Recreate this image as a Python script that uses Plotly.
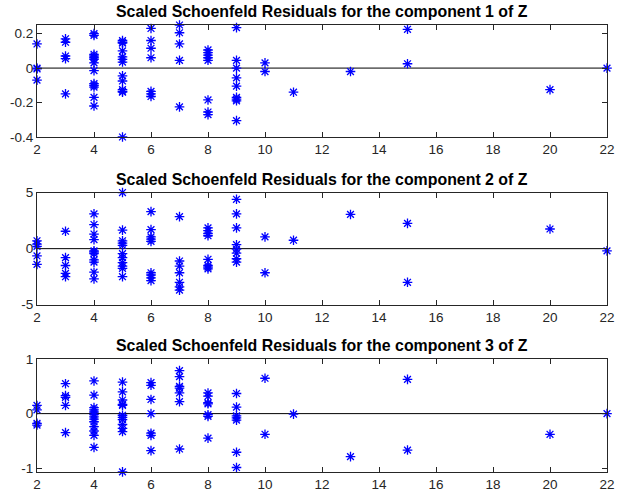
import plotly.graph_objects as go

# Event times and scaled Schoenfeld residuals for each component of Z
time_c1 = (
    [2] * 4 + [3] * 5 + [4] * 13 + [5] * 13 + [6] * 7 + [7] * 5 + [8] * 8 + [9] * 9
    + [10] * 2 + [11] + [13] + [15] * 2 + [20] + [22]
)
res_c1 = [
    0.14, 0.0, -0.005, -0.07,
    0.17, 0.15, 0.07, 0.055, -0.15,
    0.2, 0.19, 0.08, 0.07, 0.06, 0.05, 0.03, -0.015, -0.09, -0.10, -0.11, -0.17, -0.22,
    0.16, 0.15, 0.145, 0.10, 0.065, 0.05, 0.035, -0.045, -0.075, -0.125, -0.135, -0.14, -0.40,
    0.23, 0.16, 0.115, 0.06, -0.135, -0.15, -0.165,
    0.25, 0.205, 0.14, 0.045, -0.225,
    0.105, 0.09, 0.075, 0.06, 0.045, -0.185, -0.255, -0.27,
    0.235, 0.045, 0.0, -0.057, -0.105, -0.17, -0.18, -0.19, -0.305,
    0.03, -0.02,
    -0.14,
    -0.02,
    0.225, 0.025,
    -0.125,
    0.0,
]

time_c2 = (
    [2] * 5 + [3] * 5 + [4] * 11 + [5] * 11 + [6] * 9 + [7] * 7 + [8] * 8 + [9] * 8
    + [10] * 2 + [11] + [13] + [15] * 2 + [20] + [22]
)
res_c2 = [
    0.7, 0.4, 0.2, -0.65, -1.4,
    1.55, -0.8, -1.5, -2.2, -2.5,
    3.1, 2.15, 1.3, 0.8, -0.2, -0.3, -0.45, -1.0, -1.2, -2.1, -2.7,
    5.0, 1.65, 0.7, 0.5, 0.3, -0.45, -0.8, -1.25, -1.55, -1.75, -2.5,
    3.3, 1.7, 1.05, 0.85, 0.65, -2.15, -2.35, -2.6, -2.85,
    2.85, -1.1, -1.55, -2.15, -3.0, -3.4, -3.7,
    1.85, 1.6, 1.35, 1.15, -0.95, -1.5, -1.65, -1.8,
    4.4, 3.1, 1.85, 0.35, -0.05, -0.4, -0.9, -1.2,
    1.05, -2.15,
    0.75,
    3.05,
    2.25, -3.0,
    1.75,
    -0.2,
]

time_c3 = (
    [2] * 4 + [3] * 5 + [4] * 13 + [5] * 12 + [6] * 7 + [7] * 7 + [8] * 7 + [9] * 7
    + [10] * 2 + [11] + [13] + [15] * 2 + [20] + [22]
)
res_c3 = [
    0.15, 0.07, -0.18, -0.21,
    0.55, 0.33, 0.30, 0.15, -0.35,
    0.6, 0.34, 0.11, 0.07, 0.03, -0.02, -0.06, -0.1, -0.15, -0.24, -0.32, -0.4, -0.62,
    0.58, 0.4, 0.25, 0.17, 0.15, -0.03, -0.07, -0.11, -0.2, -0.27, -0.33, -1.07,
    0.57, 0.52, 0.26, 0.0, -0.36, -0.4, -0.68,
    0.79, 0.68, 0.5, 0.47, 0.38, 0.22, -0.65,
    0.38, 0.32, 0.2, 0.18, -0.02, -0.05, -0.45,
    0.37, 0.12, -0.04, -0.08, -0.12, -0.71, -0.99,
    0.65, -0.38,
    -0.01,
    -0.79,
    0.63, -0.67,
    -0.38,
    0.0,
]

x_ticks = [2, 4, 6, 8, 10, 12, 14, 16, 18, 20, 22]
y_ticks_c1 = [-0.4, -0.2, 0, 0.2]
y_labels_c1 = ["-0.4", "-0.2", "0", "0.2"]
y_ticks_c2 = [-5, 0, 5]
y_labels_c2 = ["-5", "0", "5"]
y_ticks_c3 = [-1, 0, 1]
y_labels_c3 = ["-1", "0", "1"]

y_ranges = [[-0.4, 0.25], [-5, 5], [-1.073, 1]]
titles = [
    "Scaled Schoenfeld Residuals for the component 1 of Z",
    "Scaled Schoenfeld Residuals for the component 2 of Z",
    "Scaled Schoenfeld Residuals for the component 3 of Z",
]

W, H = 623, 501
ml, mr, mt, mb = 37, 8.5, 25, 27
plot_h = H - mt - mb

# axes boxes in pixels from the top of the page
boxes = [(25, 137.5), (193.3, 306), (360.7, 474)]
domains = [[1 - (b - mt) / plot_h, 1 - (t - mt) / plot_h] for t, b in boxes]
domains[2][0] = 0.0

series = [
    (time_c1, res_c1, y_ticks_c1, y_labels_c1),
    (time_c2, res_c2, y_ticks_c2, y_labels_c2),
    (time_c3, res_c3, y_ticks_c3, y_labels_c3),
]

fig = go.Figure()
axis_color = "#262626"
font_family = "Liberation Sans, Arial, sans-serif"
tick_font = dict(family=font_family, size=13.5, color=axis_color)

for i, (tx, ry, yt, yl) in enumerate(series):
    n = "" if i == 0 else str(i + 1)
    xa, ya = "x" + n, "y" + n
    # zero reference line across the time span
    fig.add_trace(go.Scatter(
        x=[min(tx), max(tx)], y=[0, 0], mode="lines",
        line=dict(color="black", width=1), xaxis=xa, yaxis=ya,
        showlegend=False, hoverinfo="skip",
    ))
    fig.add_trace(go.Scatter(
        x=tx, y=ry, mode="markers",
        marker=dict(symbol="asterisk-open", size=8, color="#0000FF",
                    line=dict(color="#0000FF", width=1.3)),
        xaxis=xa, yaxis=ya, showlegend=False, cliponaxis=False,
    ))
    common = dict(showline=True, linecolor=axis_color, linewidth=1, mirror="ticks",
                  ticks="inside", ticklen=5, tickcolor=axis_color, tickwidth=1,
                  showgrid=False, zeroline=False, tickfont=tick_font)
    fig.layout["xaxis" + n] = dict(
        domain=[0, 1], anchor=ya, range=[2, 22], tickvals=x_ticks,
        ticktext=[str(v) for v in x_ticks], **common,
    )
    fig.layout["yaxis" + n] = dict(
        domain=domains[i], anchor=xa, range=y_ranges[i], tickvals=yt,
        ticktext=yl, **common,
    )
    top_px = boxes[i][0]
    fig.add_annotation(
        text="<b>" + titles[i] + "</b>", xref="paper", x=0.5,
        yref="paper", y=1 - (top_px - 3 - mt) / plot_h, yanchor="bottom",
        showarrow=False,
        font=dict(family=font_family, size=15.9, color="black"),
    )

fig.update_layout(
    width=W, height=H, margin=dict(l=ml, r=mr, t=mt, b=mb),
    paper_bgcolor="white", plot_bgcolor="white",
)

fig.write_html("out.html")
